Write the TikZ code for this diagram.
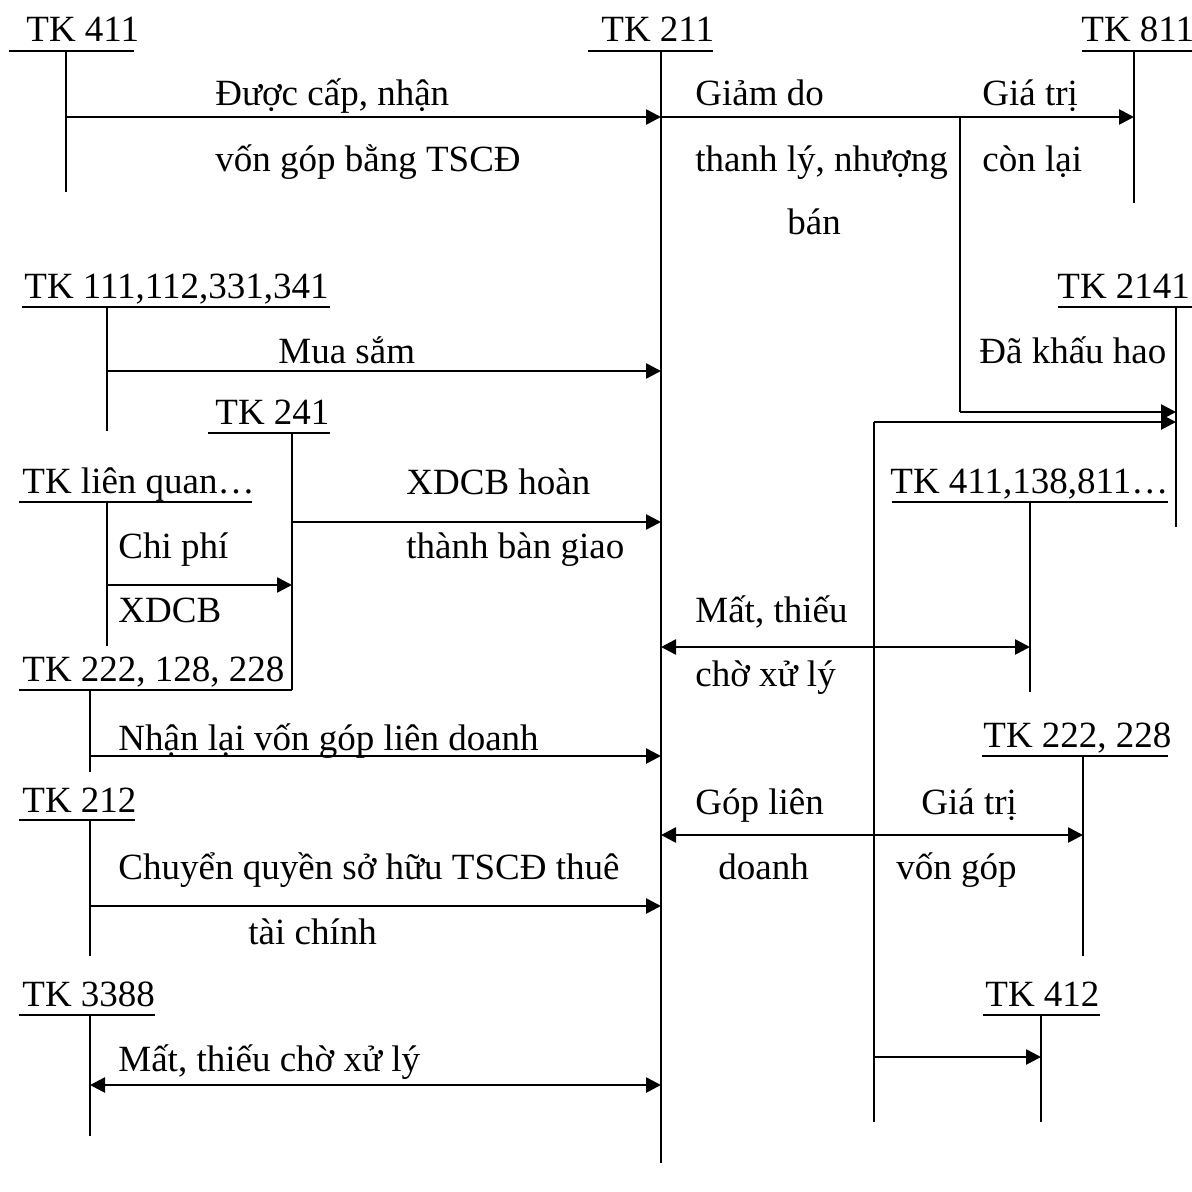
\documentclass[tikz,border=0pt]{standalone}
\usepackage{fontspec}
\setmainfont{Liberation Serif}
\usetikzlibrary{arrows.meta}
\begin{document}
\begin{tikzpicture}[x=0.5pt,y=-0.5pt,
  acct/.style={line width=1pt},
  flow/.style={line width=1.3pt,-{Triangle[length=7.5pt,width=7.5pt]}},
  flowtwo/.style={line width=1.3pt,{Triangle[length=7.5pt,width=7.5pt]}-{Triangle[length=7.5pt,width=7.5pt]}},
  lbl/.style={anchor=base west,inner sep=0pt,font=\fontsize{18.5}{21}\selectfont}]
\useasboundingbox (0,0) rectangle (1192,1192);

% ---------- account headers ----------
\node[lbl] (h411) at (26,42) {TK 411};
\coordinate (u411a) at (9,51); \coordinate (u411b) at (134,51);
\coordinate (t411) at (66,51); \coordinate (b411) at (66,192);

\node[lbl] (h211) at (601,42) {TK 211};
\coordinate (u211a) at (588,51); \coordinate (u211b) at (713,51);
\coordinate (t211) at (661,51); \coordinate (b211) at (661,1163);

\node[lbl] (h811) at (1081,42) {TK 811};
\coordinate (u811a) at (1082,51); \coordinate (u811b) at (1192,51);
\coordinate (t811) at (1134,51); \coordinate (b811) at (1134,203);

\node[lbl] (h111) at (24,299) {TK 111,112,331,341};
\coordinate (u111a) at (22,307); \coordinate (u111b) at (330,307);
\coordinate (t111) at (107,307); \coordinate (b111) at (107,431);

\node[lbl] (h2141) at (1057,299) {TK 2141};
\coordinate (u2141a) at (1058,307); \coordinate (u2141b) at (1192,307);
\coordinate (t2141) at (1176,307); \coordinate (b2141) at (1176,527);

\node[lbl] (h241) at (215,424) {TK 241};
\coordinate (u241a) at (208,433); \coordinate (u241b) at (330,433);
\coordinate (t241) at (292,433); \coordinate (b241) at (292,690);

\node[lbl] (hlq) at (22,493) {TK liên quan…};
\coordinate (ulqa) at (19,502); \coordinate (ulqb) at (252,502);
\coordinate (tlq) at (107,502); \coordinate (blq) at (107,646);

\node[lbl] (h4x) at (890,493) {TK 411,138,811…};
\coordinate (u4xa) at (892,502); \coordinate (u4xb) at (1168,502);
\coordinate (t4x) at (1030,502); \coordinate (b4x) at (1030,692);

\node[lbl] (h222a) at (22,681) {TK 222, 128, 228};
\coordinate (u222aa) at (19,690); \coordinate (u222ab) at (292,690);
\coordinate (t222a) at (90,690); \coordinate (b222a) at (90,772);

\node[lbl] (h222b) at (983,747) {TK 222, 228};
\coordinate (u222ba) at (982,756); \coordinate (u222bb) at (1168,756);
\coordinate (t222b) at (1083,756); \coordinate (b222b) at (1083,956);

\node[lbl] (h212) at (22,812) {TK 212};
\coordinate (u212a) at (19,820); \coordinate (u212b) at (135,820);
\coordinate (t212) at (90,820); \coordinate (b212) at (90,956);

\node[lbl] (h3388) at (22,1006) {TK 3388};
\coordinate (u3388a) at (19,1015); \coordinate (u3388b) at (155,1015);
\coordinate (t3388) at (90,1015); \coordinate (b3388) at (90,1136);

\node[lbl] (h412) at (985,1006) {TK 412};
\coordinate (u412a) at (983,1015); \coordinate (u412b) at (1100,1015);
\coordinate (t412) at (1041,1015); \coordinate (b412) at (1041,1122);

\foreach \n in {411,211,811,111,2141,241,lq,4x,222a,222b,212,3388,412}{
  \draw[acct] (u\n a) -- (u\n b);
  \draw[acct] (t\n) -- (b\n);
}

% ---------- connectors ----------
\coordinate (a1s) at (66,117);  \coordinate (a1e) at (661,117);
\draw[flow] (a1s) -- (a1e);
\coordinate (a2e) at (1134,117);
\draw[flow] (a1e) -- (a2e);
\coordinate (br1) at (960,117); \coordinate (br2) at (960,412); \coordinate (br3) at (1176,412);
\draw[acct] (br1) -- (br2);
\draw[flow] (br2) -- (br3);

\coordinate (c1) at (874,1122); \coordinate (c2) at (874,422); \coordinate (c3) at (1176,422);
\draw[acct] (c1) -- (c2);
\draw[flow] (c2) -- (c3);

\coordinate (m1) at (107,371); \coordinate (m2) at (661,371);
\draw[flow] (m1) -- (m2);

\coordinate (x1) at (107,585); \coordinate (x2) at (292,585);
\draw[flow] (x1) -- (x2);
\coordinate (x3) at (292,522); \coordinate (x4) at (661,522);
\draw[flow] (x3) -- (x4);

\coordinate (d1) at (661,647); \coordinate (d2) at (1030,647);
\draw[flowtwo] (d1) -- (d2);

\coordinate (n1) at (90,756); \coordinate (n2) at (661,756);
\draw[flow] (n1) -- (n2);

\coordinate (g1) at (661,835); \coordinate (g2) at (1083,835);
\draw[flowtwo] (g1) -- (g2);

\coordinate (q1) at (90,906); \coordinate (q2) at (661,906);
\draw[flow] (q1) -- (q2);

\coordinate (s1) at (90,1085); \coordinate (s2) at (661,1085);
\draw[flowtwo] (s1) -- (s2);

\coordinate (r1) at (874,1057); \coordinate (r2) at (1041,1057);
\draw[flow] (r1) -- (r2);

% ---------- labels ----------
\node[lbl] (l1) at (215,106) {Được cấp, nhận};
\node[lbl] (l2) at (215,172) {vốn góp bằng TSCĐ};
\node[lbl] (l3) at (695,106) {Giảm do};
\node[lbl] (l4) at (695,172) {thanh lý, nhượng};
\node[lbl] (l5) at (787,235) {bán};
\node[lbl] (l6) at (982,106) {Giá trị};
\node[lbl] (l7) at (982,172) {còn lại};
\node[lbl] (l8) at (278,363) {Mua sắm};
\node[lbl] (l9) at (979,363) {Đã khấu hao};
\node[lbl] (l10) at (406,494) {XDCB hoàn};
\node[lbl] (l11) at (406,558) {thành bàn giao};
\node[lbl] (l12) at (118,558) {Chi phí};
\node[lbl] (l13) at (118,622) {XDCB};
\node[lbl] (l14) at (695,622) {Mất, thiếu};
\node[lbl] (l15) at (695,686) {chờ xử lý};
\node[lbl] (l16) at (118,750) {Nhận lại vốn góp liên doanh};
\node[lbl] (l17) at (695,814) {Góp liên};
\node[lbl] (l18) at (718,879) {doanh};
\node[lbl] (l19) at (921,814) {Giá trị};
\node[lbl] (l20) at (896,879) {vốn góp};
\node[lbl] (l21) at (118,879) {Chuyển quyền sở hữu TSCĐ thuê};
\node[lbl] (l22) at (248,944) {tài chính};
\node[lbl] (l23) at (118,1071) {Mất, thiếu chờ xử lý};
\end{tikzpicture}
\end{document}
